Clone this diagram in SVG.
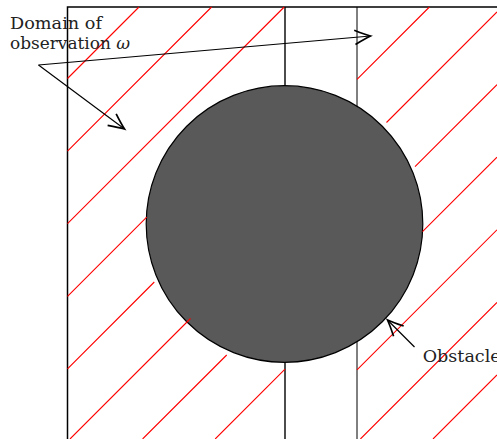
<svg xmlns="http://www.w3.org/2000/svg" width="497" height="439" viewBox="0 0 497 439">
<style>
.hatch{stroke:#ff0000;stroke-width:1.1;fill:none}
.bd{stroke:#000;fill:none}
.lbl{font-family:"DejaVu Serif","Liberation Serif",serif;font-size:17px;fill:#222}
.conn{stroke:#000;stroke-width:1.2;fill:none;marker-end:url(#to)}
</style>
<defs>
<marker id="to" markerUnits="userSpaceOnUse" markerWidth="20" markerHeight="20" refX="0" refY="0" orient="auto" overflow="visible" viewBox="-12 -6 14 12">
<path d="M-11,-5 Q-4,-1.5 0,0 Q-4,1.5 -11,5" stroke="#000" stroke-width="1.2" fill="none"/>
</marker>
</defs>
<rect width="497" height="439" fill="#fff"/>
<g id="domain">
<path class="bd" stroke-width="1.5" d="M67.5,439 V7 H497"/>
<path class="bd" stroke-width="1.4" d="M285,7 V439"/>
<path class="bd" stroke-width="1" d="M357,7 V439"/>
</g>
<g id="obstacle">
<circle cx="284.5" cy="224" r="138.3" fill="#595959" stroke="#000" stroke-width="1.2"/>
</g>
<g id="hatching">
<path class="hatch" d="M67.5,78.5 L139,7 M67.5,151.1 L211.6,7 M67.5,223.7 L284.2,7 M67.5,296.3 L146.7,217.1 M67.5,368.9 L154.3,282 M70,439 L190.5,318.5 M142.6,439 L226.7,355 M215.2,439 L285,369.2"/>
<path class="hatch" d="M357,79.4 L429.4,7 M386.5,122.5 L497,12 M415,166.6 L497,84.6 M422.5,231.7 L497,157.2 M357,369.8 L497,229.8 M360.4,439 L497,302.4 M433,439 L497,375"/>
</g>
<g id="domain-label">
<text class="lbl" x="10" y="29" textLength="92" lengthAdjust="spacingAndGlyphs">Domain of</text>
<text class="lbl" x="10" y="49.3" textLength="120" lengthAdjust="spacingAndGlyphs">observation <tspan font-style="italic">ω</tspan></text>
</g>
<g id="obstacle-label">
<text class="lbl" x="422.7" y="361.7" textLength="78" lengthAdjust="spacingAndGlyphs">Obstacle</text>
</g>
<g id="connectors">
<path class="conn" d="M38.5,65 L124.5,129"/>
<path class="conn" d="M38.5,65 L370.5,36"/>
<path class="conn" d="M414.5,347 L387.5,320"/>
</g>
</svg>
